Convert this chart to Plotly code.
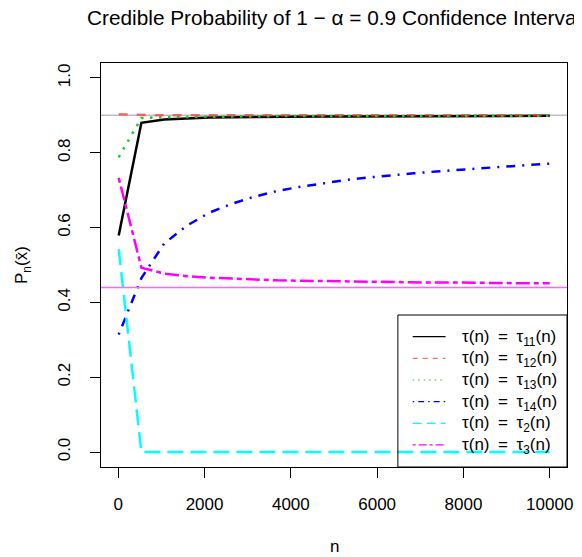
import plotly.graph_objects as go

# ---- data ----
n_vals = [10, 536, 1062, 1587, 2113, 2639, 3165, 3690, 4216, 4742,
          5268, 5794, 6320, 6845, 7371, 7897, 8423, 8948, 9474, 10000]
tau11 = [0.579, 0.880, 0.889, 0.892, 0.894, 0.895, 0.896, 0.896, 0.897, 0.897,
         0.897, 0.897, 0.898, 0.898, 0.898, 0.898, 0.899, 0.899, 0.899, 0.899]
tau12 = [0.903, 0.901, 0.900, 0.900, 0.900, 0.900, 0.900, 0.900, 0.900, 0.900,
         0.900, 0.900, 0.900, 0.900, 0.900, 0.900, 0.900, 0.900, 0.900, 0.900]
tau13 = [0.788, 0.893, 0.895, 0.896, 0.897, 0.897, 0.898, 0.898, 0.898, 0.898,
         0.898, 0.898, 0.899, 0.899, 0.899, 0.899, 0.899, 0.899, 0.899, 0.899]
tau14 = [0.314, 0.465, 0.557, 0.605, 0.640, 0.664, 0.683, 0.698, 0.709, 0.719,
         0.727, 0.734, 0.740, 0.745, 0.750, 0.755, 0.759, 0.763, 0.767, 0.771]
tau2 = [0.542, 0.0, 0.0, 0.0, 0.0, 0.0, 0.0, 0.0, 0.0, 0.0,
        0.0, 0.0, 0.0, 0.0, 0.0, 0.0, 0.0, 0.0, 0.0, 0.0]
tau3 = [0.733, 0.493, 0.477, 0.470, 0.466, 0.463, 0.461, 0.459, 0.458, 0.457,
        0.456, 0.455, 0.454, 0.454, 0.453, 0.453, 0.452, 0.452, 0.451, 0.451]
ref_nominal = 0.9
ref_magenta = 0.44

x_ticks = [0, 2000, 4000, 6000, 8000, 10000]
x_ticklabels = ["0", "2000", "4000", "6000", "8000", "10000"]
y_ticks = [0.0, 0.2, 0.4, 0.6, 0.8, 1.0]
y_ticklabels = ["0.0", "0.2", "0.4", "0.6", "0.8", "1.0"]

SP = "\u2002"
names = [f"τ(n){SP}={SP}τ<sub>11</sub>(n)", f"τ(n){SP}={SP}τ<sub>12</sub>(n)",
         f"τ(n){SP}={SP}τ<sub>13</sub>(n)", f"τ(n){SP}={SP}τ<sub>14</sub>(n)",
         f"τ(n){SP}={SP}τ<sub>2</sub>(n)", f"τ(n){SP}={SP}τ<sub>3</sub>(n)"]
series = [tau11, tau12, tau13, tau14, tau2, tau3]
colors = ["#000000", "rgba(255,60,60,0.75)", "#1EC81E", "#0000FF", "#00FFFF", "#FF00FF"]
dashes = ["solid", "9px,9px", "2.5px,6.5px", "2px,7px,9px,7px", "16px,7px", "5px,4px,14px,4px"]
legend_dashes = ["solid", "5px,5px", "1.5px,4px", "1.5px,4px,6px,4px", "9px,5px", "3px,3px,8px,3px"]

FONT = "Liberation Sans, Arial, sans-serif"

# plot area in page pixels (page has an 8px body margin)
PL, PR, PT, PB = 101, 573, 63, 467
def px(X):
    return (X - PL) / (PR - PL)
def py(Y):
    return (PB - Y) / (PB - PT)

fig = go.Figure()
for nm, ys, c, d in zip(names, series, colors, dashes):
    fig.add_trace(go.Scatter(x=n_vals, y=ys, mode="lines", name=nm, showlegend=False,
                             line=dict(color=c, dash=d, width=2.5)))

fig.add_shape(type="line", xref="paper", yref="y", x0=0, x1=1,
              y0=ref_nominal, y1=ref_nominal, layer="below",
              line=dict(color="#BEBEBE", width=1.5))
fig.add_shape(type="line", xref="paper", yref="y", x0=0, x1=1,
              y0=ref_magenta, y1=ref_magenta, layer="above",
              line=dict(color="#FF66FF", width=1.5))

# legend (box, samples, labels)
fig.add_shape(type="rect", xref="paper", yref="paper",
              x0=px(401.7), x1=1, y0=0, y1=py(315),
              line=dict(color="black", width=1), fillcolor="rgba(0,0,0,0)", layer="above")
row_y0, row_dy = 336.7, 21.65
for i, (nm, c, d) in enumerate(zip(names, colors, legend_dashes)):
    Y = row_y0 + i * row_dy
    fig.add_shape(type="line", xref="paper", yref="paper",
                  x0=px(416.7), x1=px(450), y0=py(Y), y1=py(Y), layer="above",
                  line=dict(color=c, dash=d, width=1.2))
    fig.add_annotation(text=nm, xref="paper", yref="paper", x=px(465), y=py(Y + 1),
                       xanchor="left", yanchor="middle", showarrow=False,
                       font=dict(family=FONT, size=17, color="black"))

axis_common = dict(showline=True, linecolor="black", linewidth=1, mirror=True,
                   ticks="outside", ticklen=10, tickcolor="black", tickwidth=1,
                   showgrid=False, zeroline=False,
                   tickfont=dict(family=FONT, size=17, color="black"))
fig.update_xaxes(range=[-400, 10400], tickvals=x_ticks, ticktext=x_ticklabels,
                 ticklabelstandoff=12, **axis_common)
fig.update_yaxes(range=[-0.04, 1.04], tickvals=y_ticks, ticktext=y_ticklabels,
                 tickangle=-90, ticklabelstandoff=13, **axis_common)

fig.add_annotation(text=f"Credible Probability of 1 − α = 0.9 Confidence Interval",
                   xref="paper", yref="paper", x=0.5, y=py(18),
                   xanchor="center", yanchor="middle", showarrow=False,
                   font=dict(family=FONT, size=20.8, color="black"))
fig.add_annotation(text="n", xref="paper", yref="paper", x=0.5, y=py(546),
                   xanchor="center", yanchor="middle", showarrow=False,
                   font=dict(family=FONT, size=17, color="black"))
fig.add_annotation(text="P<sub>n</sub>(x\u0304)", xref="paper", yref="paper",
                   x=px(22), y=0.5, textangle=-90,
                   xanchor="center", yanchor="middle", showarrow=False,
                   font=dict(family=FONT, size=17, color="black"))

OFF = 8  # browser body margin
fig.update_layout(
    width=582 - OFF, height=557 - OFF,
    margin=dict(l=PL - OFF, r=582 - PR, t=PT - OFF, b=557 - PB),
    paper_bgcolor="white", plot_bgcolor="white",
    font=dict(family=FONT, size=17, color="black"),
    showlegend=False,
)

fig.write_html("out.html")
